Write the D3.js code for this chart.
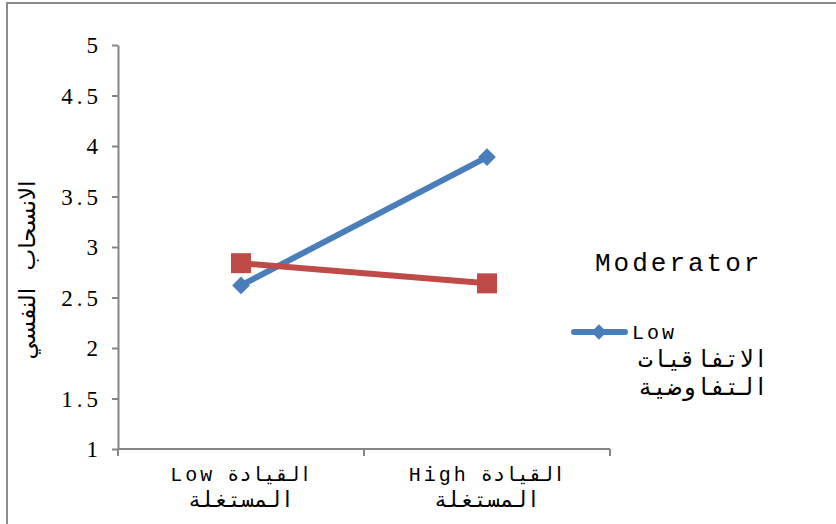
<!DOCTYPE html>
<html>
<head>
<meta charset="utf-8">
<script src="https://cdn.jsdelivr.net/npm/d3@7"></script>
<style>
  body { margin: 0; background: #fff; }
  svg { display: block; }
  .axis path, .axis line { stroke: #868686; stroke-width: 2px; }
</style>
</head>
<body>
<div id="chart"></div>
<script>
// chart data
var categories = ["Low", "High"];
var catLines = [["القيادة Low", "المستغلة"], ["القيادة High", "المستغلة"]];
var lowValues = [2.62, 3.89];
var highValues = [2.84, 2.64];
var yTicks = [1, 1.5, 2, 2.5, 3, 3.5, 4, 4.5, 5];
var yTitle = "الانسحاب النفسي";
var legendTitle = "Moderator";
var legendLines = ["Low", "الاتفاقيات", "التفاوضية"];

var width = 836, height = 524;
var margin = { t: 45, r: 226, b: 75, l: 118 };

var svg = d3.select("#chart").append("svg")
  .attr("width", width)
  .attr("height", height);

// outer chart frame (clipped on right and bottom)
svg.append("rect")
  .attr("x", 7).attr("y", 3)
  .attr("width", width + 20).attr("height", height + 20)
  .attr("fill", "none")
  .attr("stroke", "#8c8c8c")
  .attr("stroke-width", 2);

var scale = {
  x: d3.scaleBand().domain(categories).range([margin.l, width - margin.r]),
  y: d3.scaleLinear().domain([1, 5]).range([height - margin.b, margin.t])
};

function cx(d, i) { return scale.x(categories[i]) + scale.x.bandwidth() / 2; }

// y axis
svg.append("g")
  .attr("class", "y axis")
  .attr("transform", "translate(" + margin.l + ",0)")
  .call(d3.axisLeft(scale.y).tickValues(yTicks).tickSize(6).tickSizeOuter(0)
    .tickFormat(function (d) { return String(d); }))
  .call(function (g) {
    g.selectAll(".tick text")
      .attr("x", -16)
      .attr("dy", "0.34em")
      .attr("fill", "#000")
      .style("font-family", "'Liberation Serif', 'Times New Roman', serif")
      .style("font-size", "23px")
      .style("letter-spacing", "4px");
  });

// x axis: line plus ticks at category boundaries
var xAxisY = scale.y(1);
var gx = svg.append("g").attr("class", "x axis");
gx.append("line")
  .attr("x1", scale.x.range()[0]).attr("x2", scale.x.range()[1])
  .attr("y1", xAxisY).attr("y2", xAxisY);
var bounds = categories.map(function (c) { return scale.x(c); }).concat([scale.x.range()[1]]);
gx.selectAll(".bt").data(bounds).enter().append("line")
  .attr("class", "bt")
  .attr("x1", function (d) { return d; }).attr("x2", function (d) { return d; })
  .attr("y1", xAxisY).attr("y2", xAxisY + 7);

// category labels
var lbl = svg.selectAll(".cat").data(catLines).enter().append("text")
  .attr("class", "cat")
  .attr("direction", "rtl")
  .attr("text-anchor", "middle")
  .style("font-family", "'Liberation Mono', monospace")
  .style("font-size", "20px")
  .style("letter-spacing", "3px");
lbl.each(function (lines, i) {
  var t = d3.select(this);
  lines.forEach(function (s, k) {
    t.append("tspan")
      .attr("x", cx(null, i))
      .attr("y", 481 + k * 26)
      .style("font-size", k === 0 ? "20px" : "22px")
      .text(s);
  });
});

// y title
svg.append("text")
  .attr("transform", "translate(35,270) rotate(-90)")
  .attr("text-anchor", "middle")
  .style("font-family", "'DejaVu Sans', sans-serif")
  .style("font-size", "23px")
  .style("word-spacing", "10px")
  .text(yTitle);

var line = d3.line().x(cx).y(function (d) { return scale.y(d); });

var blue = "#4a7ebb", red = "#be4b48";

// Low series
svg.append("path").datum(lowValues)
  .attr("d", line).attr("fill", "none")
  .attr("stroke", blue).attr("stroke-width", 6).attr("stroke-linecap", "round");
svg.selectAll(".dia").data(lowValues).enter().append("path")
  .attr("class", "dia")
  .attr("d", d3.symbol().type(d3.symbolDiamond2).size(200))
  .attr("transform", function (d, i) { return "translate(" + cx(d, i) + "," + scale.y(d) + ")"; })
  .attr("fill", blue);

// High series
svg.append("path").datum(highValues)
  .attr("d", line).attr("fill", "none")
  .attr("stroke", red).attr("stroke-width", 6).attr("stroke-linecap", "round");
svg.selectAll(".sq").data(highValues).enter().append("rect")
  .attr("class", "sq")
  .attr("x", function (d, i) { return cx(d, i) - 10; })
  .attr("y", function (d) { return scale.y(d) - 10; })
  .attr("width", 20).attr("height", 20)
  .attr("fill", red);

// legend
svg.append("text")
  .attr("x", 595).attr("y", 271)
  .style("font-family", "'Liberation Mono', monospace")
  .style("font-size", "26px")
  .style("letter-spacing", "3px")
  .text(legendTitle);

svg.append("line")
  .attr("x1", 574).attr("x2", 625).attr("y1", 332).attr("y2", 332)
  .attr("stroke", blue).attr("stroke-width", 6).attr("stroke-linecap", "round");
svg.append("path")
  .attr("d", d3.symbol().type(d3.symbolDiamond2).size(150))
  .attr("transform", "translate(599,332)")
  .attr("fill", blue);

svg.selectAll(".leg").data(legendLines).enter().append("text")
  .attr("class", "leg")
  .attr("x", function (d, i) { return i === 0 ? 632 : 768; })
  .attr("y", function (d, i) { return [339, 367, 395][i]; })
  .attr("text-anchor", function (d, i) { return i === 0 ? "start" : "end"; })
  .style("font-family", "'Liberation Mono', monospace")
  .style("font-size", function (d, i) { return i === 0 ? "20px" : "24px"; })
  .style("letter-spacing", "3px")
  .text(function (d) { return d; });
</script>
</body>
</html>
